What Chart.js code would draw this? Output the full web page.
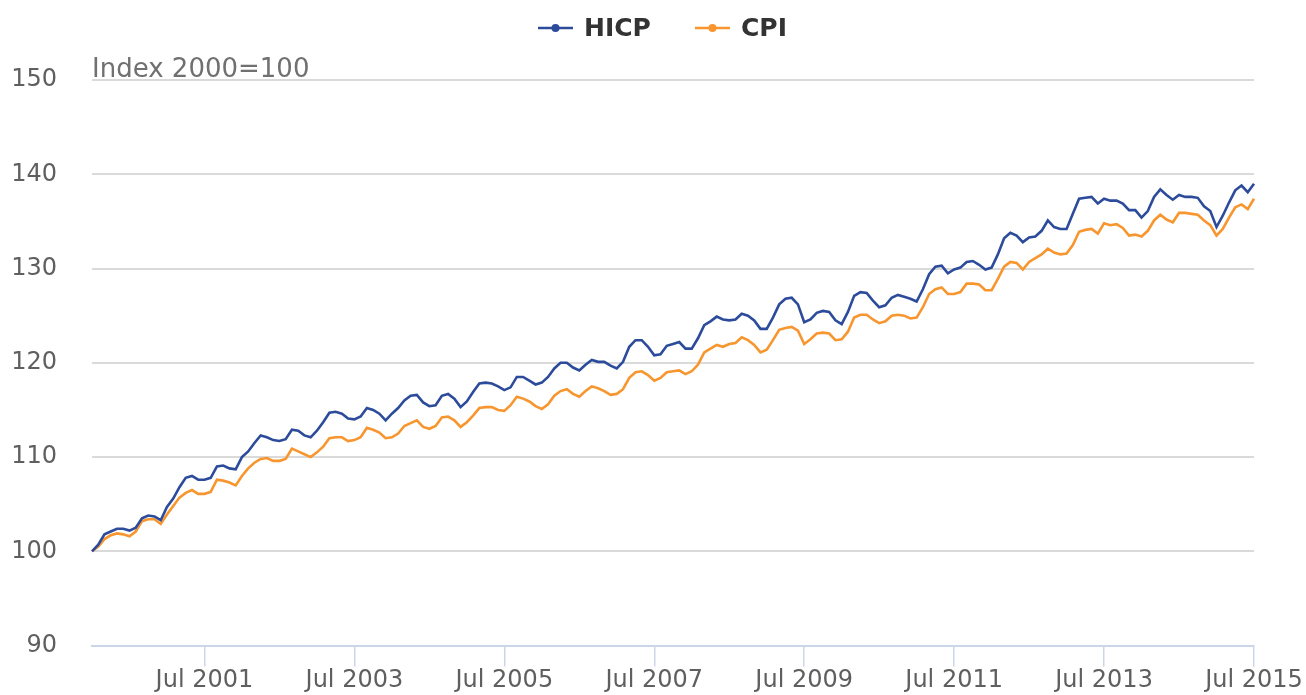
<!DOCTYPE html>
<html>
<head>
<meta charset="utf-8">
<script src="https://cdn.jsdelivr.net/npm/chart.js@4.4.1/dist/chart.umd.min.js"></script>
<style>
	html, body { margin: 0; padding: 0; background: #fff; }
</style>
</head>
<body>
<canvas id="IndexChart" width="1306" height="695"></canvas>
<script>
// monthly index values, Jan 2000 = 100
const monthNames = ["Jan", "Feb", "Mar", "Apr", "May", "Jun", "Jul", "Aug", "Sep", "Oct", "Nov", "Dec"]
const years = [2000, 2001, 2002, 2003, 2004, 2005, 2006, 2007, 2008, 2009, 2010, 2011, 2012, 2013, 2014, 2015]

const hicp = [
	100.0, 100.7, 101.8, 102.1, 102.4, 102.4, 102.2, 102.5, 103.5, 103.8, 103.7, 103.3, // 2000
	104.7, 105.6, 106.8, 107.8, 108.0, 107.6, 107.6, 107.8, 109.0, 109.1, 108.8, 108.7, // 2001
	110.0, 110.6, 111.5, 112.3, 112.1, 111.8, 111.7, 111.9, 112.9, 112.8, 112.3, 112.1, // 2002
	112.8, 113.7, 114.7, 114.8, 114.6, 114.1, 114.0, 114.3, 115.2, 115.0, 114.6, 113.9, // 2003
	114.6, 115.2, 116.0, 116.5, 116.6, 115.8, 115.4, 115.5, 116.5, 116.7, 116.2, 115.3, // 2004
	115.9, 116.9, 117.8, 117.9, 117.8, 117.5, 117.1, 117.4, 118.5, 118.5, 118.1, 117.7, // 2005
	117.9, 118.5, 119.4, 120.0, 120.0, 119.5, 119.2, 119.8, 120.3, 120.1, 120.1, 119.7, // 2006
	119.4, 120.1, 121.7, 122.4, 122.4, 121.7, 120.8, 120.9, 121.8, 122.0, 122.2, 121.5, // 2007
	121.5, 122.6, 124.0, 124.4, 124.9, 124.6, 124.5, 124.6, 125.2, 125.0, 124.5, 123.6, // 2008
	123.6, 124.8, 126.2, 126.8, 126.9, 126.2, 124.3, 124.6, 125.3, 125.5, 125.4, 124.5, // 2009
	124.1, 125.4, 127.1, 127.5, 127.4, 126.6, 125.9, 126.1, 126.9, 127.2, 127.0, 126.8, // 2010
	126.5, 127.8, 129.4, 130.2, 130.3, 129.5, 129.9, 130.1, 130.7, 130.8, 130.4, 129.9, // 2011
	130.1, 131.5, 133.2, 133.8, 133.5, 132.8, 133.3, 133.4, 134.0, 135.1, 134.4, 134.2, // 2012
	134.2, 135.8, 137.4, 137.5, 137.6, 136.9, 137.4, 137.2, 137.2, 136.9, 136.2, 136.2, // 2013
	135.4, 136.1, 137.6, 138.4, 137.8, 137.3, 137.8, 137.6, 137.6, 137.5, 136.6, 136.1, // 2014
	134.4, 135.6, 137.0, 138.3, 138.8, 138.1, 139.0, // 2015
]

const cpi = [
	100.0, 100.5, 101.3, 101.7, 101.9, 101.8, 101.6, 102.1, 103.2, 103.4, 103.4, 102.9, // 2000
	103.9, 104.8, 105.7, 106.2, 106.5, 106.1, 106.1, 106.3, 107.6, 107.5, 107.3, 107.0, // 2001
	108.0, 108.8, 109.4, 109.8, 109.9, 109.6, 109.6, 109.8, 110.9, 110.6, 110.3, 110.0, // 2002
	110.5, 111.1, 112.0, 112.1, 112.1, 111.7, 111.8, 112.1, 113.1, 112.9, 112.6, 112.0, // 2003
	112.1, 112.5, 113.3, 113.6, 113.9, 113.2, 113.0, 113.3, 114.2, 114.3, 113.9, 113.2, // 2004
	113.7, 114.4, 115.2, 115.3, 115.3, 115.0, 114.9, 115.5, 116.4, 116.2, 115.9, 115.4, // 2005
	115.1, 115.6, 116.5, 117.0, 117.2, 116.7, 116.4, 117.0, 117.5, 117.3, 117.0, 116.6, // 2006
	116.7, 117.2, 118.4, 119.0, 119.1, 118.7, 118.1, 118.4, 119.0, 119.1, 119.2, 118.8, // 2007
	119.1, 119.8, 121.1, 121.5, 121.9, 121.7, 122.0, 122.1, 122.7, 122.4, 121.9, 121.1, // 2008
	121.4, 122.4, 123.5, 123.7, 123.8, 123.4, 122.0, 122.5, 123.1, 123.2, 123.1, 122.4, // 2009
	122.5, 123.3, 124.8, 125.1, 125.1, 124.6, 124.2, 124.4, 125.0, 125.1, 125.0, 124.7, // 2010
	124.8, 125.9, 127.3, 127.8, 128.0, 127.3, 127.3, 127.5, 128.4, 128.4, 128.3, 127.7, // 2011
	127.7, 128.9, 130.2, 130.7, 130.6, 129.9, 130.7, 131.1, 131.5, 132.1, 131.7, 131.5, // 2012
	131.6, 132.5, 133.9, 134.1, 134.2, 133.7, 134.8, 134.6, 134.7, 134.3, 133.5, 133.6, // 2013
	133.4, 134.0, 135.1, 135.7, 135.2, 134.9, 135.9, 135.9, 135.8, 135.7, 135.1, 134.6, // 2014
	133.5, 134.2, 135.4, 136.5, 136.8, 136.3, 137.4, // 2015
]

const tickLabels = ["Jul 2001", "Jul 2003", "Jul 2005", "Jul 2007", "Jul 2009", "Jul 2011", "Jul 2013", "Jul 2015"]
const yTicks = [90, 100, 110, 120, 130, 140, 150]

const months = []
years.forEach((y) => monthNames.forEach((m) => months.push(m + " " + y)))
const labels = months.slice(0, hicp.length)

const HICP_COLOR = "#2c4b9a"
const CPI_COLOR = "#f7962f"
const FONT = "'DejaVu Sans', sans-serif"

// legend + subtitle drawn by hand, Highcharts style
const headerPlugin = {
	id: "header",
	afterDraw(chart) {
		const ctx = chart.ctx
		const area = chart.chartArea
		ctx.save()

		ctx.font = "26px " + FONT
		ctx.fillStyle = "#707070"
		ctx.textAlign = "left"
		ctx.textBaseline = "alphabetic"
		ctx.fillText("Index 2000=100", area.left, 77)

		const items = [
			{ text: "HICP", color: HICP_COLOR, x: 538 },
			{ text: "CPI", color: CPI_COLOR, x: 695 },
		]
		ctx.font = "bold 25px " + FONT
		ctx.textBaseline = "alphabetic"
		items.forEach((it) => {
			ctx.strokeStyle = it.color
			ctx.lineWidth = 2.5
			ctx.beginPath()
			ctx.moveTo(it.x, 28)
			ctx.lineTo(it.x + 35, 28)
			ctx.stroke()
			ctx.fillStyle = it.color
			ctx.beginPath()
			ctx.arc(it.x + 17.5, 28, 4, 0, Math.PI * 2)
			ctx.fill()
			ctx.fillStyle = "#333333"
			ctx.fillText(it.text, it.x + 46, 36)
		})
		ctx.restore()
	},
}

new Chart(document.getElementById("IndexChart").getContext("2d"), {
	type: "line",
	data: {
		labels: labels,
		datasets: [
			{
				label: "HICP",
				data: hicp,
				borderColor: HICP_COLOR,
				backgroundColor: HICP_COLOR,
				borderWidth: 2.6,
				pointRadius: 0,
				tension: 0,
				fill: false,
			},
			{
				label: "CPI",
				data: cpi,
				borderColor: CPI_COLOR,
				backgroundColor: CPI_COLOR,
				borderWidth: 2.6,
				pointRadius: 0,
				tension: 0,
				fill: false,
			},
		],
	},
	options: {
		responsive: false,
		animation: false,
		events: [],
		layout: { padding: { top: 80, right: 52, left: 0, bottom: 0 } },
		plugins: {
			legend: { display: false },
			tooltip: { enabled: false },
		},
		scales: {
			x: {
				type: "category",
				offset: false,
				afterFit: (scale) => {
					scale.height = 48
				},
				grid: {
					drawOnChartArea: false,
					drawTicks: true,
					tickLength: 21,
					lineWidth: 1.5,
					color: (c) => (tickLabels.includes(labels[c.index]) ? "#ccd6eb" : "rgba(0,0,0,0)"),
				},
				border: { display: true, color: "#ccd6eb", width: 2 },
				ticks: {
					autoSkip: false,
					maxRotation: 0,
					minRotation: 0,
					padding: 0,
					color: "#5f5f5f",
					font: { family: FONT, size: 24 },
					callback: (value, index) => (tickLabels.includes(labels[index]) ? labels[index] : ""),
				},
			},
			y: {
				min: yTicks[0],
				max: yTicks[yTicks.length - 1],
				afterFit: (scale) => {
					scale.width = 92
				},
				afterBuildTicks: (scale) => {
					scale.ticks = yTicks.map((v) => ({ value: v }))
				},
				grid: {
					drawTicks: false,
					lineWidth: 2,
					color: (c) => (c.tick && c.tick.value === yTicks[0] ? "rgba(0,0,0,0)" : "#dadada"),
				},
				border: { display: false },
				ticks: {
					padding: 35,
					color: "#5f5f5f",
					font: { family: FONT, size: 24 },
				},
			},
		},
	},
	plugins: [headerPlugin],
})
</script>
</body>
</html>
